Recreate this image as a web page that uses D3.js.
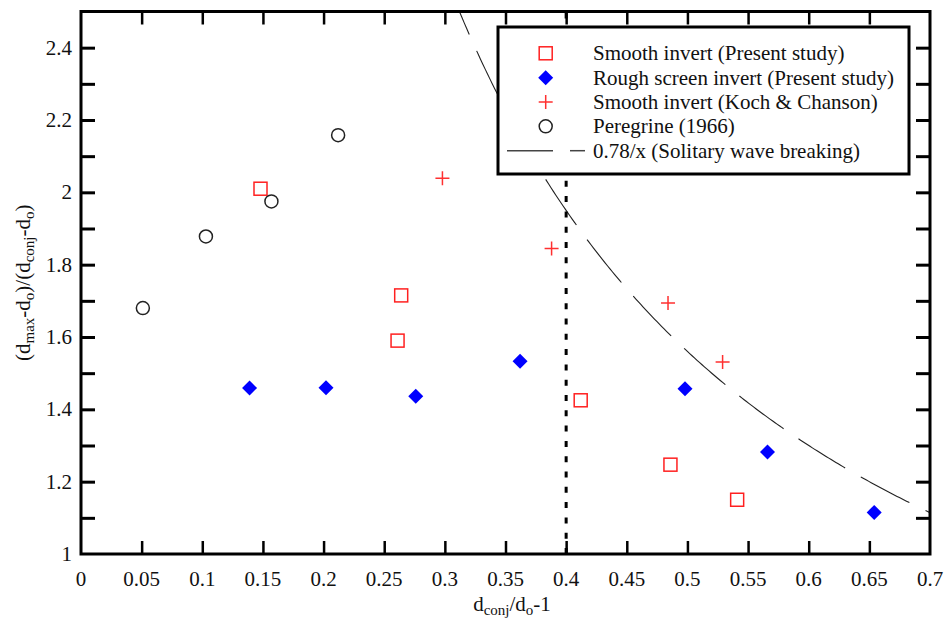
<!DOCTYPE html>
<html>
<head>
<meta charset="utf-8">
<script src="https://cdn.jsdelivr.net/npm/d3@7"></script>
<style>
  html, body { margin: 0; padding: 0; background: #fff; }
  svg { display: block; }
  text { font-family: "Liberation Serif", "Times New Roman", serif; fill: #111; }
</style>
</head>
<body>
<svg id="chart" width="946" height="619"></svg>
<script>
// Smooth invert (Present study)
const smoothPresent = [
  [0.148, 2.010], [0.264, 1.715], [0.261, 1.590],
  [0.412, 1.425], [0.486, 1.247], [0.541, 1.150]
];
// Rough screen invert (Present study)
const roughPresent = [
  [0.139, 1.459], [0.202, 1.460], [0.276, 1.436],
  [0.362, 1.533], [0.498, 1.457], [0.566, 1.282], [0.654, 1.115]
];
// Smooth invert (Koch & Chanson)
const smoothKoch = [
  [0.298, 2.039], [0.388, 1.845], [0.484, 1.694], [0.529, 1.531]
];
// Peregrine (1966)
const peregrine = [
  [0.051, 1.680], [0.103, 1.878], [0.157, 1.975], [0.212, 2.158]
];
// Solitary wave breaking coefficient
const breakingCoef = 0.78;
const dividerX = 0.4;

const xTicks = [0, 0.05, 0.1, 0.15, 0.2, 0.25, 0.3, 0.35, 0.4, 0.45, 0.5, 0.55, 0.6, 0.65, 0.7];
const xTickLabels = ["0", "0.05", "0.1", "0.15", "0.2", "0.25", "0.3", "0.35", "0.4", "0.45", "0.5", "0.55", "0.6", "0.65", "0.7"];
const yTicks = [1, 1.2, 1.4, 1.6, 1.8, 2, 2.2, 2.4];
const yTickLabels = ["1", "1.2", "1.4", "1.6", "1.8", "2", "2.2", "2.4"];
const yMinorTicks = [1.1, 1.3, 1.5, 1.7, 1.9, 2.1, 2.3];

const legendItems = [
  { label: "Smooth invert (Present study)", type: "square" },
  { label: "Rough screen invert (Present study)", type: "diamond" },
  { label: "Smooth invert (Koch & Chanson)", type: "cross" },
  { label: "Peregrine (1966)", type: "circle" },
  { label: "0.78/x (Solitary wave breaking)", type: "dash" }
];

const FS = 21;
const svg = d3.select("#chart");
const L = 81, R = 930, T = 11.5, B = 554;
const x = d3.scaleLinear().domain([0, 0.7]).range([L, R]);
const y = d3.scaleLinear().domain([1, 2.5]).range([B, T]);

svg.append("defs").append("clipPath").attr("id", "plotClip")
  .append("rect").attr("x", L).attr("y", T).attr("width", R - L).attr("height", B - T);

const plot = svg.append("g").attr("clip-path", "url(#plotClip)");

// 0.78/x curve
const xStart = breakingCoef / 2.5;
const curveXs = d3.range(0, 201).map(i => xStart + (0.7 - xStart) * i / 200);
plot.append("path")
  .datum(curveXs)
  .attr("d", d3.line().x(d => x(d)).y(d => y(breakingCoef / d)))
  .attr("fill", "none")
  .attr("stroke", "#222")
  .attr("stroke-width", 1.1)
  .attr("stroke-dasharray", "55,18")
  .attr("stroke-dashoffset", 30);

// vertical dotted divider
plot.append("line")
  .attr("x1", x(dividerX)).attr("x2", x(dividerX))
  .attr("y1", y(1)).attr("y2", y(2.5))
  .attr("stroke", "#000").attr("stroke-width", 3)
  .attr("stroke-dasharray", "6,9.3");

// axes (ticks point inward)
const fmtX = d => xTickLabels[xTicks.indexOf(d)];
const fmtY = d => yTickLabels[yTicks.indexOf(d)];
const xInner = xTicks.slice(1, -1);

const axB = svg.append("g").attr("transform", `translate(0,${B})`)
  .call(d3.axisBottom(x).tickValues(xInner).tickSizeInner(-13).tickSizeOuter(0).tickFormat(""));
const axT = svg.append("g").attr("transform", `translate(0,${T})`)
  .call(d3.axisTop(x).tickValues(xInner).tickSizeInner(-13).tickSizeOuter(0).tickFormat(""));
const yAll = yTicks.slice(1).concat(yMinorTicks);
const axL = svg.append("g").attr("transform", `translate(${L},0)`)
  .call(d3.axisLeft(y).tickValues(yAll).tickSizeInner(-14).tickSizeOuter(0).tickFormat(""));
const axR = svg.append("g").attr("transform", `translate(${R},0)`)
  .call(d3.axisRight(y).tickValues(yAll).tickSizeInner(-14).tickSizeOuter(0).tickFormat(""));
[axB, axT].forEach(a => { a.select(".domain").remove(); a.selectAll(".tick line").attr("stroke", "#000").attr("stroke-width", 2.5); });
[axL, axR].forEach(a => { a.select(".domain").remove(); a.selectAll(".tick line").attr("stroke", "#000").attr("stroke-width", 3); });

// frame
svg.append("rect").attr("x", L).attr("y", T).attr("width", R - L).attr("height", B - T)
  .attr("fill", "none").attr("stroke", "#000").attr("stroke-width", 3);

// tick labels
svg.append("g").selectAll("text").data(xTicks).join("text")
  .attr("x", d => x(d)).attr("y", 586)
  .attr("text-anchor", "middle").attr("font-size", FS)
  .text(fmtX);
svg.append("g").selectAll("text").data(yTicks).join("text")
  .attr("x", 72).attr("y", d => y(d) + 7)
  .attr("text-anchor", "end").attr("font-size", FS)
  .text(fmtY);

// axis titles with subscripts
function richText(sel, parts) {
  parts.forEach(p => {
    const t = sel.append("tspan").text(p.t);
    if (p.sub) t.attr("font-size", 15).attr("dy", 4);
    else if (p.after) t.attr("dy", -4);
  });
}
const xTitle = svg.append("text").attr("x", 512).attr("y", 611)
  .attr("text-anchor", "middle").attr("font-size", FS);
richText(xTitle, [{ t: "d" }, { t: "conj", sub: true }, { t: "/d", after: true }, { t: "o", sub: true }, { t: "-1", after: true }]);

const yTitle = svg.append("text")
  .attr("transform", `translate(30,${(T + B) / 2}) rotate(-90)`)
  .attr("text-anchor", "middle").attr("font-size", FS);
richText(yTitle, [{ t: "(d" }, { t: "max", sub: true }, { t: "-d", after: true }, { t: "o", sub: true },
  { t: ")/(d", after: true }, { t: "conj", sub: true }, { t: "-d", after: true }, { t: "o", sub: true }, { t: ")", after: true }]);

// marker drawing
function drawMarker(g, type, cx, cy) {
  if (type === "square") {
    g.append("rect").attr("x", cx - 6.5).attr("y", cy - 6.5).attr("width", 13).attr("height", 13)
      .attr("fill", "none").attr("stroke", "#ff2020").attr("stroke-width", 1.5);
  } else if (type === "diamond") {
    g.append("path").attr("d", `M${cx},${cy - 7.5}L${cx + 7.5},${cy}L${cx},${cy + 7.5}L${cx - 7.5},${cy}Z`)
      .attr("fill", "#0000ff");
  } else if (type === "cross") {
    g.append("path").attr("d", `M${cx - 7},${cy}H${cx + 7}M${cx},${cy - 7}V${cy + 7}`)
      .attr("stroke", "#ff3030").attr("stroke-width", 1.5).attr("fill", "none");
  } else if (type === "circle") {
    g.append("circle").attr("cx", cx).attr("cy", cy).attr("r", 6.5)
      .attr("fill", "none").attr("stroke", "#222").attr("stroke-width", 1.5);
  }
}

const marks = svg.append("g");
const seriesList = [
  [smoothPresent, "square"], [roughPresent, "diamond"], [smoothKoch, "cross"], [peregrine, "circle"]
];
seriesList.forEach(([data, type]) => {
  data.forEach(d => drawMarker(marks, type, x(d[0]), y(d[1])));
});

// legend
const lg = svg.append("g");
lg.append("rect").attr("x", 498).attr("y", 27).attr("width", 411).attr("height", 147)
  .attr("fill", "#fff").attr("stroke", "#000").attr("stroke-width", 3);
legendItems.forEach((item, i) => {
  const cy = 53.3 + i * 24.35;
  if (item.type === "dash") {
    lg.append("line").attr("x1", 507).attr("x2", 553).attr("y1", cy).attr("y2", cy)
      .attr("stroke", "#444").attr("stroke-width", 1.5);
    lg.append("line").attr("x1", 570).attr("x2", 585).attr("y1", cy).attr("y2", cy)
      .attr("stroke", "#444").attr("stroke-width", 1.5);
  } else {
    drawMarker(lg, item.type, 545.7, cy);
  }
  lg.append("text").attr("x", 593).attr("y", cy + 7).attr("font-size", FS).text(item.label);
});
</script>
</body>
</html>
